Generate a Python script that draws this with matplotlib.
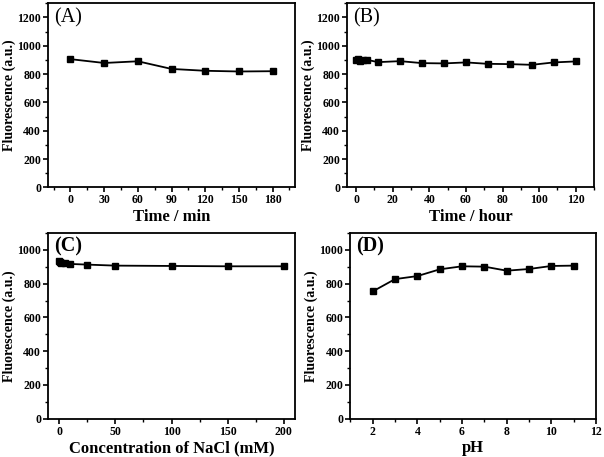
import matplotlib.pyplot as plt
import numpy as np
from matplotlib.ticker import MultipleLocator

plt.rcParams['font.family'] = ['Liberation Serif', 'DejaVu Serif']
plt.rcParams['font.weight'] = 'bold'

# panel data
time_min = [0, 30, 60, 90, 120, 150, 180]
fl_time_min = [905, 878, 890, 836, 823, 818, 820]

time_hour = [0, 1, 2, 4, 6, 12, 24, 36, 48, 60, 72, 84, 96, 108, 120]
fl_time_hour = [900, 905, 889, 896, 900, 884, 891, 877, 875, 882, 872, 870, 865, 882, 889]

nacl = [0, 1, 2, 5, 10, 25, 50, 100, 150, 200]
fl_nacl = [936, 930, 925, 920, 917, 913, 907, 905, 903, 903]

ph = [2, 3, 4, 5, 6, 7, 8, 9, 10, 11]
fl_ph = [754, 827, 845, 885, 903, 901, 877, 887, 905, 907]

fig = plt.figure(figsize=(6.04, 4.57), dpi=100)

panels = [
    # rect, x, y, label, bold label, label y, xlim, ylim, xmajor, xminor, xlabel
    ([0.0795, 0.590, 0.409, 0.403], time_min, fl_time_min, '(A)', False, 0.975,
     (-20, 200), (0, 1300), 30, 15, 'Time / min'),
    ([0.5745, 0.590, 0.409, 0.403], time_hour, fl_time_hour, '(B)', False, 0.975,
     (-5, 130), (0, 1300), 20, 10, 'Time / hour'),
    ([0.0795, 0.084, 0.409, 0.406], nacl, fl_nacl, '(C)', True, 0.98,
     (-10, 210), (0, 1100), 50, 25, 'Concentration of NaCl (mM)'),
    ([0.580, 0.084, 0.407, 0.406], ph, fl_ph, '(D)', True, 0.98,
     (1, 12), (0, 1100), 2, 1, 'pH'),
]

for rect, x, y, lab, labbold, laby, xl, yl, xmaj, xmin, xlab in panels:
    ax = fig.add_axes(rect)
    ax.plot(x, y, color='black', lw=1.3, marker='s', ms=4.5)
    ax.set_xlim(*xl)
    ax.set_ylim(*yl)
    ax.xaxis.set_major_locator(MultipleLocator(xmaj))
    ax.xaxis.set_minor_locator(MultipleLocator(xmin))
    ax.yaxis.set_major_locator(MultipleLocator(200))
    ax.yaxis.set_minor_locator(MultipleLocator(100))
    ax.tick_params(which='major', direction='out', length=3.5, width=1.2, labelsize=8.5, pad=1.5)
    ax.tick_params(which='minor', direction='out', length=2, width=1)
    for s in ax.spines.values():
        s.set_linewidth(1.3)
    ax.set_xlabel(xlab, fontsize=12, fontweight='bold', labelpad=2)
    ax.set_ylabel('Fluorescence (a.u.)', fontsize=10, fontweight='bold', labelpad=1)
    ax.text(0.025, laby, lab, transform=ax.transAxes, va='top', ha='left',
            fontsize=14.5, fontweight='bold' if labbold else 'normal')

fig.savefig('out.png', dpi=100)
